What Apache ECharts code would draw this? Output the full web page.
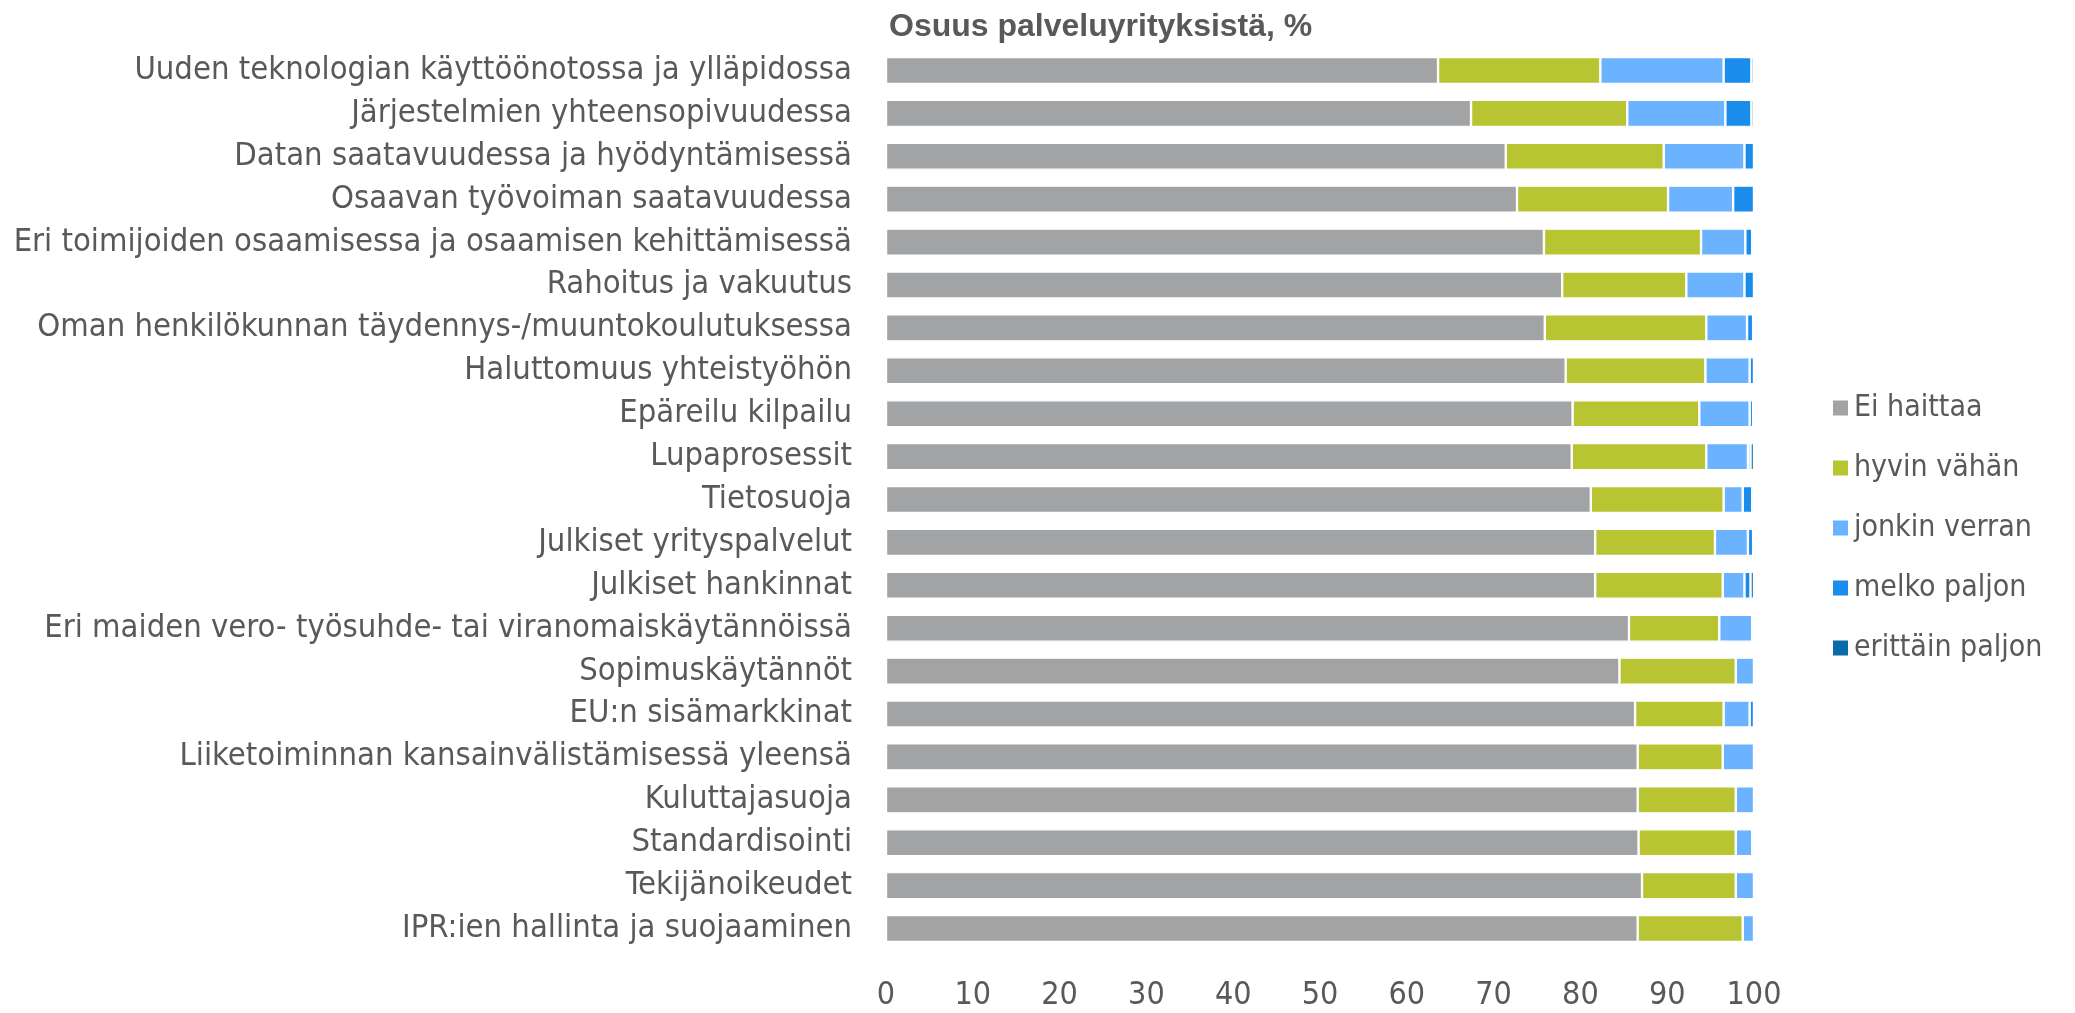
<!DOCTYPE html>
<html>
<head>
<meta charset="utf-8">
<script src="https://cdn.jsdelivr.net/npm/echarts@6/dist/echarts.min.js"></script>
<style>
  html, body { margin: 0; padding: 0; background: #fff; }
  #chart { width: 2075px; height: 1013px; }
</style>
</head>
<body>
<div id="chart"></div>
<script>
const categories = [
  'Uuden teknologian käyttöönotossa ja ylläpidossa',
  'Järjestelmien yhteensopivuudessa',
  'Datan saatavuudessa ja hyödyntämisessä',
  'Osaavan työvoiman saatavuudessa',
  'Eri toimijoiden osaamisessa ja osaamisen kehittämisessä',
  'Rahoitus ja vakuutus',
  'Oman henkilökunnan täydennys-/muuntokoulutuksessa',
  'Haluttomuus yhteistyöhön',
  'Epäreilu kilpailu',
  'Lupaprosessit',
  'Tietosuoja',
  'Julkiset yrityspalvelut',
  'Julkiset hankinnat',
  'Eri maiden vero- työsuhde- tai viranomaiskäytännöissä',
  'Sopimuskäytännöt',
  'EU:n sisämarkkinat',
  'Liiketoiminnan kansainvälistämisessä yleensä',
  'Kuluttajasuoja',
  'Standardisointi',
  'Tekijänoikeudet',
  'IPR:ien hallinta ja suojaaminen',
];

const seriesNames = ['Ei haittaa', 'hyvin vähän', 'jonkin verran', 'melko paljon', 'erittäin paljon'];
const seriesColors = ['#A2A3A5', '#B8C431', '#6BB3FF', '#1A8CEC', '#0B6BAA'];

// shares in %, one value per category (same order as categories)
const eiHaittaa = [63.6, 67.4, 71.4, 72.7, 75.8, 77.9, 75.9, 78.3, 79.1, 79.0, 81.2, 81.7, 81.7, 85.6, 84.5, 86.3, 86.6, 86.6, 86.7, 87.1, 86.6];
const hyvinVahan = [18.7, 18.0, 18.2, 17.4, 18.1, 14.3, 18.6, 16.1, 14.6, 15.5, 15.3, 13.8, 14.7, 10.4, 13.4, 10.2, 9.8, 11.3, 11.2, 10.8, 12.1];
const jonkinVerran = [14.2, 11.3, 9.3, 7.5, 5.1, 6.7, 4.7, 5.1, 5.8, 4.8, 2.2, 3.8, 2.5, 3.8, 2.1, 3.0, 3.6, 2.1, 1.9, 2.1, 1.3];
const melkoPaljon = [3.2, 3.0, 1.1, 2.4, 0.8, 1.1, 0.7, 0.5, 0.4, 0.3, 1.1, 0.6, 0.7, 0.2, 0, 0.5, 0, 0, 0.2, 0, 0];
const erittainPaljon = [0.3, 0.3, 0, 0, 0.2, 0, 0.1, 0, 0, 0.4, 0.2, 0.1, 0.4, 0, 0, 0, 0, 0, 0, 0, 0];

const seriesValues = [eiHaittaa, hyvinVahan, jonkinVerran, melkoPaljon, erittainPaljon];

const labelFont = '"Liberation Sans Narrow", "Arial Narrow", "DejaVu Sans Condensed", sans-serif';
const textColor = '#595959';

const chart = echarts.init(document.getElementById('chart'));

const series = seriesNames.map((name, i) => ({
  name,
  type: 'bar',
  stack: 'total',
  data: seriesValues[i],
  barCategoryGap: '37%',
  itemStyle: { color: seriesColors[i], borderColor: '#fff', borderWidth: 1.2 },
  animation: false,
}));

chart.setOption({
  title: {
    text: 'Osuus palveluyrityksistä, %',
    left: 884,
    top: 6,
    textStyle: {
      fontFamily: '"Liberation Sans", Arial, sans-serif',
      fontSize: 32,
      fontWeight: 'bold',
      color: textColor,
    },
  },
  legend: {
    data: seriesNames,
    orient: 'vertical',
    left: 1826,
    top: 386,
    itemWidth: 17,
    itemHeight: 17,
    itemGap: 26,
    icon: 'rect',
    selectedMode: false,
    textStyle: { fontFamily: labelFont, fontSize: 30, color: textColor, lineHeight: 34, padding: [0, 0, 0, 0] },
  },
  grid: { left: 886, right: 321, top: 49, bottom: 63, containLabel: false },
  xAxis: {
    type: 'value',
    min: 0,
    max: 100,
    interval: 10,
    splitLine: { show: false },
    axisLine: { show: false },
    axisTick: { show: false },
    axisLabel: { fontFamily: labelFont, fontSize: 32, color: textColor, margin: 30 },
  },
  yAxis: {
    type: 'category',
    data: categories,
    inverse: true,
    axisLine: { show: false },
    axisTick: { show: false },
    axisLabel: { fontFamily: labelFont, fontSize: 32.5, color: textColor, margin: 34 },
  },
  series,
});
</script>
</body>
</html>
